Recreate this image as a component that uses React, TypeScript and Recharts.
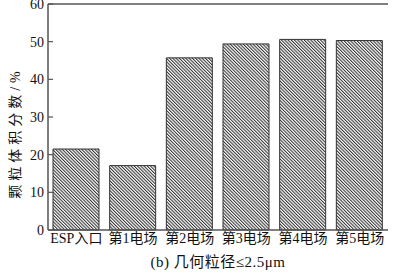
import React from "react";
import { BarChart, Bar, XAxis, YAxis, ReferenceLine } from "recharts";

const categories = ["ESP入口", "第1电场", "第2电场", "第3电场", "第4电场", "第5电场"];
const values = [21.5, 17.1, 45.7, 49.4, 50.6, 50.3];
const yTicks = [0, 10, 20, 30, 40, 50, 60];
const yLabel = "颗粒体积分数/%";
const xLabel = "(b) 几何粒径≤2.5μm";

const data = categories.map((c, i) => ({ name: c, v: values[i] }));

const FONT = '"Liberation Serif", "Noto Sans CJK SC", serif';
const AXIS = "#555";

export default function App() {
  return (
    <div style={{ position: "absolute", left: 0, top: 0, width: 401, height: 275, background: "#fff" }}>
      <BarChart
        width={401}
        height={275}
        data={data}
        margin={{ top: 4, right: 13, left: 0, bottom: 0 }}
        style={{ fontFamily: FONT }}
      >
        <defs>
          <pattern id="hatch" patternUnits="userSpaceOnUse" width="2.3" height="2.3" patternTransform="rotate(-45)">
            <rect x="0" y="0" width="2.3" height="2.3" fill="#fff" />
            <rect x="0" y="0" width="1.05" height="2.3" fill="#333" />
          </pattern>
        </defs>
        <XAxis
          dataKey="name"
          height={45}
          tickLine={false}
          tickSize={0}
          tickMargin={3}
          interval={0}
          axisLine={{ stroke: AXIS, strokeWidth: 1.5 }}
          tick={{ fill: "#111", fontSize: 14, fontFamily: FONT }}
          label={{
            value: xLabel,
            position: "insideBottom",
            offset: 8,
            fill: "#111",
            fontSize: 15,
            fontFamily: FONT,
            style: { letterSpacing: 0.5 },
          }}
        />
        <YAxis
          width={48}
          domain={[0, 60]}
          ticks={yTicks}
          interval={0}
          tickSize={-5}
          tickMargin={9}
          axisLine={{ stroke: AXIS, strokeWidth: 1.5 }}
          tickLine={{ stroke: AXIS, strokeWidth: 1.2 }}
          tick={{ fill: "#111", fontSize: 14, fontFamily: FONT }}
          label={(props: any) => {
            const vb = props.viewBox || { x: 0, y: 4, width: 48, height: 226 };
            const cx = vb.x + 15;
            const cy = vb.y + vb.height / 2 + 16;
            return (
              <text
                x={cx}
                y={cy}
                transform={`rotate(-90 ${cx} ${cy})`}
                textAnchor="middle"
                dominantBaseline="central"
                fill="#111"
                fontSize={14}
                fontFamily={FONT}
                style={{ letterSpacing: 4 }}
              >
                {yLabel}
              </text>
            );
          }}
        />
        <YAxis
          yAxisId="r"
          orientation="right"
          width={0}
          domain={[0, 60]}
          tick={false}
          tickLine={false}
          axisLine={{ stroke: AXIS, strokeWidth: 1.5 }}
        />
        <ReferenceLine y={60} stroke={AXIS} strokeWidth={1.5} />
        <Bar
          dataKey="v"
          barSize={46}
          fill="url(#hatch)"
          stroke="#333"
          strokeWidth={1}
          isAnimationActive={false}
        />
      </BarChart>
    </div>
  );
}
